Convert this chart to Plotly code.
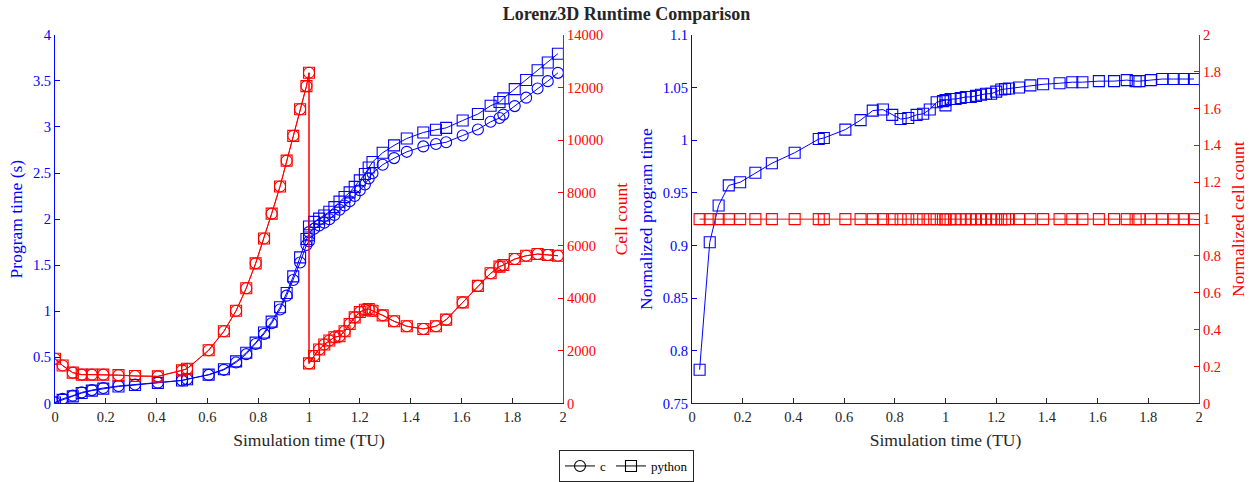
import plotly.graph_objects as go

# ---------------- data ----------------
time = [0.0, 0.03, 0.07, 0.105, 0.145, 0.19, 0.25, 0.315, 0.405, 0.50, 0.52, 0.605,
        0.665, 0.713, 0.753, 0.79, 0.823, 0.853, 0.886, 0.912, 0.938, 0.965, 0.99, 1.0,
        1.0, 1.02, 1.04, 1.06, 1.08, 1.10, 1.12, 1.14, 1.16, 1.18, 1.20, 1.22, 1.235,
        1.25, 1.29, 1.335, 1.385, 1.45, 1.50, 1.54, 1.605, 1.665, 1.715, 1.75, 1.765,
        1.81, 1.855, 1.90, 1.94, 1.98]

c_time = [0.01, 0.05, 0.085, 0.12, 0.145, 0.168, 0.19, 0.205, 0.226, 0.25, 0.262, 0.31,
          0.365, 0.445, 0.535, 0.645, 0.755, 0.87, 1.02, 1.17, 1.34, 1.53, 1.72, 1.76,
          1.859, 1.896, 1.930, 1.962, 1.998, 2.046, 2.102, 2.148, 2.193, 2.251, 2.314,
          2.376, 2.442, 2.498, 2.590, 2.662, 2.730, 2.789, 2.815, 2.834, 2.907, 2.973,
          3.056, 3.097, 3.134, 3.226, 3.318, 3.417, 3.497, 3.587]

py_time = [0.01, 0.039, 0.077, 0.113, 0.139, 0.161, 0.184, 0.200, 0.223, 0.250, 0.263, 0.313,
           0.372, 0.457, 0.551, 0.660, 0.770, 0.888, 1.044, 1.199, 1.379, 1.585, 1.784, 1.825,
           1.92, 1.97, 2.005, 2.04, 2.08, 2.13, 2.19, 2.24, 2.29, 2.35, 2.42, 2.49, 2.56,
           2.62, 2.72, 2.80, 2.875, 2.94, 2.97, 2.99, 3.07, 3.14, 3.23, 3.27, 3.31, 3.41,
           3.51, 3.615, 3.70, 3.795]

cell_count = [1700, 1440, 1170, 1095, 1095, 1095, 1075, 1044, 1030, 1258, 1320, 2020,
              2742, 3522, 4378, 5321, 6265, 7208, 8240, 9220, 10163, 11171, 12051, 12556,
              1521, 1800, 2049, 2238, 2389, 2517, 2555, 2742, 3019, 3271, 3472, 3559, 3585,
              3522, 3347, 3121, 2932, 2830, 2932, 3182, 3838, 4465, 4944, 5195, 5257, 5484,
              5610, 5674, 5636, 5610]

norm_time = [0.782, 0.903, 0.938, 0.957, 0.960, 0.969, 0.978, 0.988, 1.001, 1.002, 1.010,
             1.019, 1.028, 1.029, 1.024, 1.020, 1.021, 1.024, 1.025, 1.029, 1.036, 1.037, 1.038,
             1.033, 1.039, 1.039, 1.040, 1.041, 1.041, 1.042, 1.043, 1.044, 1.044, 1.046,
             1.048, 1.0485, 1.049, 1.050, 1.052, 1.053, 1.054, 1.055, 1.055, 1.056, 1.056,
             1.057, 1.056, 1.056, 1.057, 1.058, 1.058, 1.058, 1.058]

norm_cells = [1.0, 1.0, 1.0, 1.0, 1.0, 1.0, 1.0, 1.0, 1.0, 1.0, 1.0, 1.0, 1.0, 1.0, 1.0,
              1.0, 1.0, 1.0, 1.0, 1.0, 1.0, 1.0, 1.0, 1.0, 1.0, 1.0, 1.0, 1.0, 1.0, 1.0,
              1.0, 1.0, 1.0, 1.0, 1.0, 1.0, 1.0, 1.0, 1.0, 1.0, 1.0, 1.0, 1.0, 1.0, 1.0,
              1.0, 1.0, 1.0, 1.0, 1.0, 1.0, 1.0, 1.0]

norm_x = time[1:]

# ---------------- style ----------------
FONT = "Liberation Serif, Times New Roman, serif"
BLUE = "rgb(0,0,255)"
RED = "rgb(255,0,0)"
DARK = "rgb(38,38,38)"
W, H = 1253, 482
ydom = [1 - 406 / H, 1 - 35 / H]
MS = 11

def mk(symbol, color):
    return dict(symbol=symbol, size=MS, color=color, line=dict(color=color, width=1.1))

fig = go.Figure()

# left plot
fig.add_trace(go.Scatter(x=time, y=cell_count, mode="lines+markers", xaxis="x", yaxis="y2",
                         line=dict(color=RED, width=1), marker=mk("circle-open", RED), showlegend=False))
fig.add_trace(go.Scatter(x=time, y=cell_count, mode="lines+markers", xaxis="x", yaxis="y2",
                         line=dict(color=RED, width=1), marker=mk("square-open", RED), showlegend=False))
fig.add_trace(go.Scatter(x=time, y=c_time, mode="lines+markers", xaxis="x", yaxis="y",
                         line=dict(color=BLUE, width=1), marker=mk("circle-open", BLUE), showlegend=False))
fig.add_trace(go.Scatter(x=time, y=py_time, mode="lines+markers", xaxis="x", yaxis="y",
                         line=dict(color=BLUE, width=1), marker=mk("square-open", BLUE), showlegend=False))

# right plot
fig.add_trace(go.Scatter(x=norm_x, y=norm_cells, mode="lines+markers", xaxis="x2", yaxis="y4",
                         line=dict(color=RED, width=1), marker=mk("square-open", RED), showlegend=False))
fig.add_trace(go.Scatter(x=norm_x, y=norm_time, mode="lines+markers", xaxis="x2", yaxis="y3",
                         line=dict(color=BLUE, width=1), marker=mk("square-open", BLUE), showlegend=False))

# legend entries (black)
fig.add_trace(go.Scatter(x=[None], y=[None], mode="lines+markers", name="c", xaxis="x", yaxis="y",
                         line=dict(color="black", width=1), marker=mk("circle-open", "black")))
fig.add_trace(go.Scatter(x=[None], y=[None], mode="lines+markers", name="python", xaxis="x", yaxis="y",
                         line=dict(color="black", width=1), marker=mk("square-open", "black")))

TICKF = 14.5
TITF = 17.5

def xax(domain, anchor):
    return dict(domain=domain, anchor=anchor, range=[0, 2], dtick=0.2, tick0=0,
                showline=True, linecolor=DARK, linewidth=1, ticks="inside", ticklen=5,
                tickcolor=DARK, tickfont=dict(size=TICKF, color=DARK, family=FONT),
                title=dict(text="Simulation time (TU)", font=dict(size=TITF, color=DARK, family=FONT), standoff=9),
                showgrid=False, zeroline=False, automargin=False)

def yax(rng, dtick, color, title, side="left", anchor="x", overlaying=None, domain=None,
        tickformat=None, standoff=6):
    d = dict(range=rng, dtick=dtick, tick0=rng[0] if dtick != 0.05 else 0.75, side=side, anchor=anchor,
             showline=True, linecolor=color, linewidth=1, ticks="inside", ticklen=5,
             tickcolor=color, tickfont=dict(size=TICKF, color=color, family=FONT),
             title=dict(text=title, font=dict(size=TITF, color=color, family=FONT), standoff=standoff),
             showgrid=False, zeroline=False, automargin=False)
    if overlaying:
        d["overlaying"] = overlaying
    if domain:
        d["domain"] = domain
    if tickformat:
        d["tickformat"] = tickformat
    return d

fig.update_layout(
    template="none",
    width=W, height=H,
    margin=dict(l=0, r=0, t=0, b=0),
    paper_bgcolor="white", plot_bgcolor="rgba(0,0,0,0)",
    font=dict(family=FONT, color=DARK),
    title=dict(text="<b>Lorenz3D Runtime Comparison</b>", x=0.5, xanchor="center",
               y=1 - 14 / H, yanchor="middle", font=dict(size=18, color=DARK, family=FONT)),
    xaxis=xax([55 / W, 563 / W], "y"),
    xaxis2=xax([692 / W, 1199 / W], "y3"),
    yaxis=yax([0, 4], 0.5, BLUE, "Program time (s)", domain=ydom, standoff=5),
    yaxis2=yax([0, 14000], 2000, RED, "Cell count", side="right", overlaying="y",
               tickformat="d", standoff=12),
    yaxis3=yax([0.75, 1.1], 0.05, BLUE, "Normalized program time", anchor="x2", domain=ydom,
               standoff=5),
    yaxis4=yax([0, 2], 0.2, RED, "Normalized cell count", side="right", anchor="x2",
               overlaying="y3", standoff=10),
    legend=dict(orientation="h", x=0.5, xanchor="center", y=1 - 469 / H, yanchor="middle",
                bordercolor=DARK, borderwidth=1, bgcolor="white",
                font=dict(size=13, color="black", family=FONT), itemwidth=30),
    showlegend=True,
)

fig.write_html("out.html")
